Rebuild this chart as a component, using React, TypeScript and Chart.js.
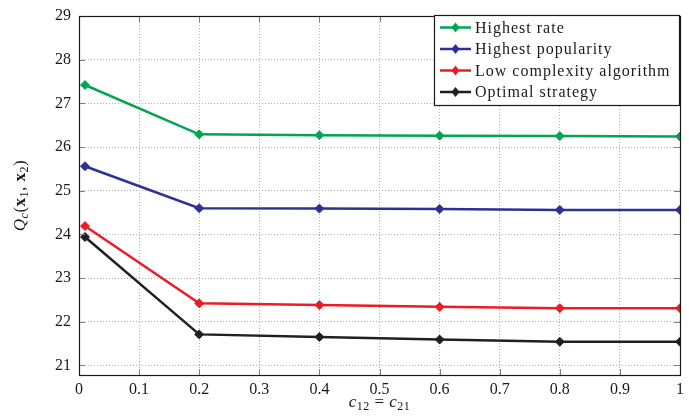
import { useEffect, useRef } from "react";
import { Chart, registerables } from "chart.js";

Chart.register(...registerables);

const xValues = [0.01, 0.2, 0.4, 0.6, 0.8, 1];
const highestRate = [27.42, 26.29, 26.27, 26.26, 26.25, 26.24];
const highestPopularity = [25.56, 24.6, 24.59, 24.58, 24.56, 24.56];
const lowComplexity = [24.19, 22.42, 22.38, 22.34, 22.31, 22.31];
const optimalStrategy = [23.94, 21.71, 21.65, 21.59, 21.54, 21.54];
const seriesLabels = ["Highest rate", "Highest popularity", "Low complexity algorithm", "Optimal strategy"];
const seriesColors = ["#00a551", "#2e3192", "#ed1c24", "#231f20"];
const yTicks = [21, 22, 23, 24, 25, 26, 27, 28, 29];
const xTicks = [0, 0.1, 0.2, 0.3, 0.4, 0.5, 0.6, 0.7, 0.8, 0.9, 1];

const SERIF = '"Liberation Serif", "Times New Roman", serif';

type Seg = { t: string; f: string; dy?: number };

function drawRich(ctx: CanvasRenderingContext2D, segs: Seg[], cx: number, baseY: number) {
  let total = 0;
  for (const s of segs) {
    ctx.font = s.f;
    total += ctx.measureText(s.t).width;
  }
  let x = cx - total / 2;
  ctx.textBaseline = "alphabetic";
  ctx.textAlign = "left";
  for (const s of segs) {
    ctx.font = s.f;
    ctx.fillText(s.t, x, baseY + (s.dy || 0));
    x += ctx.measureText(s.t).width;
  }
}

const decorPlugin = {
  id: "decor",
  afterDatasetsDraw(chart: any) {
    const ctx: any = chart.ctx;
    const { left, right, top, bottom } = chart.chartArea;
    const xs = chart.scales.x;
    const ys = chart.scales.y;
    ctx.save();
    // inner ticks
    ctx.strokeStyle = "#808080";
    ctx.lineWidth = 1;
    ctx.beginPath();
    for (const v of yTicks) {
      const py = Math.round(ys.getPixelForValue(v)) + 0.5;
      ctx.moveTo(left, py);
      ctx.lineTo(left + 6, py);
      ctx.moveTo(right, py);
      ctx.lineTo(right - 6, py);
    }
    for (const v of xTicks) {
      const px = Math.round(xs.getPixelForValue(v)) + 0.5;
      ctx.moveTo(px, bottom);
      ctx.lineTo(px, bottom - 6);
      ctx.moveTo(px, top);
      ctx.lineTo(px, top + 6);
    }
    ctx.stroke();
    // frame
    ctx.strokeStyle = "#1a1a1a";
    ctx.lineWidth = 1.2;
    ctx.strokeRect(Math.round(left) + 0.5, Math.round(top) + 0.5, Math.round(right - left), Math.round(bottom - top));

    // legend
    const lw = 245;
    const lh = 90;
    const lx = Math.round(right) - lw - 1;
    const ly = Math.round(top) - 1;
    ctx.fillStyle = "#ffffff";
    ctx.fillRect(lx, ly, lw, lh);
    ctx.strokeStyle = "#1a1a1a";
    ctx.lineWidth = 1.2;
    ctx.strokeRect(lx + 0.5, ly + 0.5, lw, lh);
    chart.data.datasets.forEach((ds: any, i: number) => {
      const cy = ly + 12.5 + i * 21.5;
      ctx.strokeStyle = ds.borderColor;
      ctx.lineWidth = 2.5;
      ctx.beginPath();
      ctx.moveTo(lx + 6, cy);
      ctx.lineTo(lx + 37, cy);
      ctx.stroke();
      ctx.fillStyle = ds.borderColor;
      ctx.beginPath();
      const mx = lx + 21.5;
      ctx.moveTo(mx, cy - 5);
      ctx.lineTo(mx + 4, cy);
      ctx.lineTo(mx, cy + 5);
      ctx.lineTo(mx - 4, cy);
      ctx.closePath();
      ctx.fill();
      ctx.fillStyle = "#1a1a1a";
      ctx.font = `16px ${SERIF}`;
      ctx.letterSpacing = "1px";
      ctx.textAlign = "left";
      ctx.textBaseline = "middle";
      ctx.fillText(ds.label, lx + 41, cy + 1);
      ctx.letterSpacing = "0px";
    });

    // axis titles
    ctx.fillStyle = "#1a1a1a";
    const big = `17px ${SERIF}`;
    const bigI = `italic 17px ${SERIF}`;
    const bigB = `bold 17px ${SERIF}`;
    const sub = `12px ${SERIF}`;
    const subI = `italic 12px ${SERIF}`;
    ctx.letterSpacing = "0.5px";
    drawRich(
      ctx,
      [
        { t: "c", f: bigI },
        { t: "12", f: sub, dy: 3 },
        { t: " = ", f: big },
        { t: "c", f: bigI },
        { t: "21", f: sub, dy: 3 },
      ],
      (left + right) / 2,
      407
    );
    ctx.save();
    ctx.translate(25, (top + bottom) / 2);
    ctx.rotate(-Math.PI / 2);
    drawRich(
      ctx,
      [
        { t: "Q", f: bigI },
        { t: "c", f: subI, dy: 3 },
        { t: "(", f: big },
        { t: "x", f: bigB },
        { t: "1", f: sub, dy: 3 },
        { t: ", ", f: big },
        { t: "x", f: bigB },
        { t: "2", f: sub, dy: 3 },
        { t: ")", f: big },
      ],
      0,
      0
    );
    ctx.restore();
    ctx.letterSpacing = "0px";
    ctx.restore();
  },
};

export default function App() {
  const ref = useRef<HTMLCanvasElement | null>(null);
  useEffect(() => {
    document.body.style.margin = "0";
    if (!ref.current) return;
    const all = [highestRate, highestPopularity, lowComplexity, optimalStrategy];
    const chart = new Chart(ref.current, {
      type: "line",
      data: {
        datasets: all.map((vals, i) => ({
          label: seriesLabels[i],
          data: vals.map((v, j) => ({ x: xValues[j], y: v })),
          borderColor: seriesColors[i],
          backgroundColor: seriesColors[i],
          pointBackgroundColor: seriesColors[i],
          pointBorderColor: seriesColors[i],
          borderWidth: 2.5,
          pointStyle: "rectRot",
          pointRadius: 4.5,
          pointBorderWidth: 1,
          tension: 0,
          fill: false,
        })),
      },
      plugins: [decorPlugin],
      options: {
        responsive: false,
        animation: false,
        devicePixelRatio: 1,
        layout: { padding: { top: 16, right: 9, left: 0, bottom: 0 } },
        plugins: { legend: { display: false }, tooltip: { enabled: false } },
        scales: {
          x: {
            type: "linear",
            min: 0,
            max: 1,
            afterBuildTicks: (s: any) => {
              s.ticks = xTicks.map((v) => ({ value: v }));
            },
            afterFit: (s: any) => {
              s.height = 43;
              s.paddingLeft = 0;
              s.paddingRight = 0;
            },
            grid: { color: "#b0b0b0", lineWidth: 1, drawTicks: false },
            border: { display: false, dash: [1, 2] },
            ticks: {
              padding: 5,
              maxRotation: 0,
              autoSkip: false,
              color: "#1a1a1a",
              font: { family: SERIF, size: 16 },
              callback: (v: any) => String(Math.round(Number(v) * 10) / 10),
            },
          },
          y: {
            type: "linear",
            min: 20.78,
            max: 29,
            afterBuildTicks: (s: any) => {
              s.ticks = yTicks.map((v) => ({ value: v }));
            },
            afterFit: (s: any) => {
              s.width = 79;
              s.paddingTop = 0;
              s.paddingBottom = 0;
            },
            grid: { color: "#b0b0b0", lineWidth: 1, drawTicks: false },
            border: { display: false, dash: [1, 2] },
            ticks: {
              padding: 8,
              autoSkip: false,
              color: "#1a1a1a",
              font: { family: SERIF, size: 16 },
            },
          },
        },
      },
    } as any);
    return () => chart.destroy();
  }, []);
  return (
    <div style={{ width: 689, height: 418 }}>
      <canvas ref={ref} width={689} height={418} style={{ display: "block" }} />
    </div>
  );
}
